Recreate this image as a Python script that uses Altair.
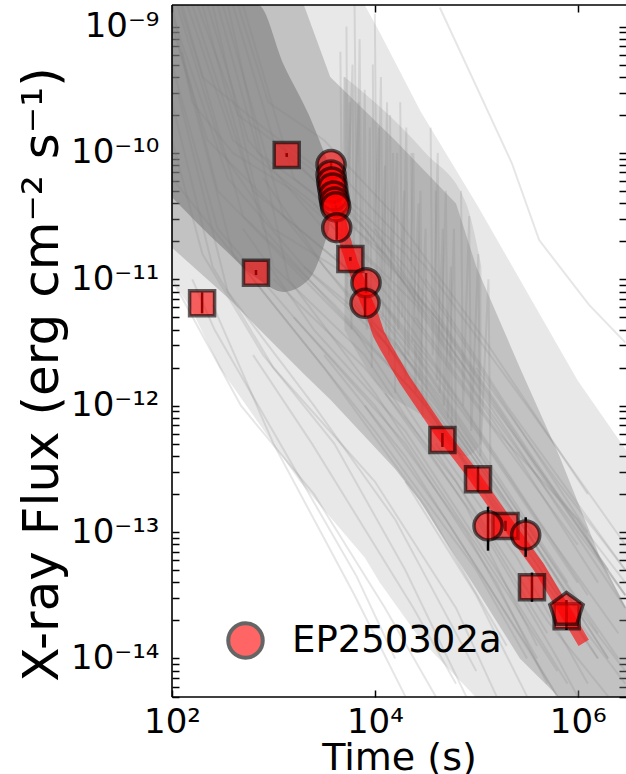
import altair as alt
import pandas as pd

FONT = "DejaVu Sans"

sq_t = [198, 673, 1352, 5741, 4.634e4, 1.04e5, 1.94e5, 3.54e5, 7.78e5]
sq_f = [6.46e-12, 1.127e-11, 9.62e-11, 1.449e-11, 5.36e-13, 2.62e-13, 1.12e-13, 3.66e-14, 2.16e-14]
sq_lo = [5.38e-12, 1.08e-11, 9.29e-11, 1.40e-11, 4.71e-13, 2.09e-13, 1.02e-13, 2.81e-14, 1.90e-14]
sq_hi = [7.88e-12, 1.185e-11, 9.97e-11, 1.50e-11, 6.08e-13, 3.29e-13, 1.23e-13, 4.78e-14, 2.45e-14]

ci_t = [3700, 3700, 3758, 3837, 3926, 4018, 4111, 4207, 8185, 7998, 1.306e5, 3.07e5]
ci_f = [8.07e-11, 6.69e-11, 5.89e-11, 5.27e-11, 4.56e-11, 4.09e-11, 3.74e-11, 2.56e-11,
        9.39e-12, 6.46e-12, 1.12e-13, 9.48e-14]
ci_lo = [7.60e-11, 6.45e-11, 5.70e-11, 5.10e-11, 4.42e-11, 3.96e-11, 3.62e-11, 2.05e-11,
         7.80e-12, 5.06e-12, 7.13e-14, 6.38e-14]
ci_hi = [8.63e-11, 6.95e-11, 6.10e-11, 5.45e-11, 4.72e-11, 4.23e-11, 3.87e-11, 2.86e-11,
         1.122e-11, 7.52e-12, 1.59e-13, 1.31e-13]

pe_t = [7.75e5]
pe_f = [2.42e-14]
pe_lo = [1.68e-14]
pe_hi = [2.90e-14]

model_t = [3926, 5047, 5916, 8128, 9528, 10916, 12796, 19720, 42660, 90200, 1.906e5, 4.13e5, 1.146e6]
model_f = [4.65e-11, 2.05e-11, 1.37e-11, 6.86e-12, 5.12e-12, 3.69e-12, 2.91e-12, 1.60e-12,
           6.42e-13, 2.94e-13, 1.25e-13, 5.30e-14, 1.33e-14]

# ---------------- comparison sample (log10 t, log10 flux) ----------------
early_curves = [
    [(2.00, -8.90), (2.55, -10.20), (3.30, -10.90), (4.20, -11.50), (5.30, -12.80), (6.00, -13.70)],
    [(2.05, -8.83), (2.50, -10.00), (3.00, -10.60), (4.00, -11.10), (5.00, -12.30), (5.90, -13.40)],
    [(2.10, -8.83), (2.70, -10.50), (3.60, -11.20), (4.50, -12.00), (5.50, -13.20), (6.20, -14.00)],
    [(2.00, -9.30), (2.45, -10.60), (3.20, -11.30), (4.30, -12.30), (5.20, -13.40), (5.70, -14.20)],
    [(2.15, -8.83), (2.60, -9.90), (3.40, -10.40), (4.40, -11.20), (5.40, -12.40), (6.20, -13.40)],
    [(2.20, -8.83), (2.80, -10.30), (3.70, -10.90), (4.70, -12.00), (5.80, -13.30), (6.40, -14.00)],
    [(2.00, -9.60), (2.40, -10.90), (3.00, -11.70), (4.00, -12.60), (4.80, -13.60), (5.20, -14.30)],
    [(2.25, -8.83), (2.65, -9.70), (3.50, -10.20), (4.30, -10.90), (5.30, -12.10), (6.30, -13.30)],
    [(2.30, -8.83), (2.90, -10.60), (3.80, -11.40), (4.80, -12.60), (5.70, -13.80)],
    [(2.00, -9.00), (2.35, -9.90), (3.10, -10.50), (4.10, -11.50), (5.10, -12.70), (5.90, -13.60)],
    [(2.35, -8.83), (2.75, -9.90), (3.60, -10.70), (4.60, -11.70), (5.60, -12.90), (6.40, -13.80)],
    [(2.40, -8.83), (3.00, -10.90), (3.90, -11.60), (4.90, -12.80), (5.60, -13.90)],
    [(2.00, -9.90), (2.30, -10.80), (2.90, -11.60), (3.60, -12.30), (4.30, -13.30), (4.90, -14.30)],
    [(2.10, -9.20), (2.45, -10.30), (3.30, -11.00), (4.40, -11.90), (5.40, -13.00), (6.20, -14.00)],
    [(2.45, -8.83), (2.85, -10.00), (3.70, -10.50), (4.60, -11.30), (5.60, -12.50), (6.47, -13.50)],
    [(2.50, -8.83), (3.10, -10.50), (4.00, -11.10), (5.00, -12.20), (6.00, -13.40)],
    [(2.00, -8.95), (2.60, -10.80), (3.50, -11.70), (4.50, -12.80), (5.30, -13.90)],
    [(2.55, -8.83), (3.15, -11.00), (4.00, -11.90), (5.00, -13.10), (5.80, -14.10)],
    [(2.05, -9.50), (2.55, -11.10), (3.40, -12.00), (4.20, -12.90), (5.00, -14.10)],
    [(2.60, -8.83), (3.00, -9.90), (3.90, -10.60), (4.80, -11.60), (5.80, -12.80), (6.47, -13.60)],
    [(2.00, -8.83), (2.20, -9.60), (2.60, -10.00), (3.20, -10.30), (4.00, -10.90), (5.00, -12.00), (6.00, -13.10)],
    [(2.08, -8.83), (2.30, -9.40), (2.90, -9.80), (3.40, -10.10), (4.30, -10.80), (5.20, -11.90), (6.10, -13.00)],
    [(2.65, -8.83), (2.95, -9.60), (3.50, -9.90), (4.20, -10.50), (5.10, -11.50), (6.10, -12.70)],
    [(2.70, -8.83), (3.20, -10.20), (4.10, -10.80), (5.00, -11.90), (6.00, -13.00), (6.47, -13.50)],
    [(2.00, -10.20), (2.50, -10.70), (3.20, -11.40), (4.00, -12.20), (5.00, -13.30), (5.50, -14.00)],
]

late_curves = [
    [(2.90, -10.20), (3.50, -10.90), (4.50, -11.80), (5.50, -13.00), (6.30, -14.00)],
    [(3.10, -10.00), (3.80, -10.50), (4.70, -11.40), (5.70, -12.60), (6.47, -13.50)],
    [(3.40, -10.40), (4.20, -11.20), (5.20, -12.40), (6.10, -13.50)],
    [(3.60, -10.80), (4.40, -11.60), (5.30, -12.70), (6.20, -13.80)],
    [(2.70, -10.60), (3.40, -11.40), (4.30, -12.20), (5.20, -13.30), (5.90, -14.20)],
    [(3.20, -11.30), (4.00, -12.00), (4.90, -13.00), (5.60, -14.00)],
    [(3.70, -10.20), (4.50, -10.90), (5.50, -12.00), (6.47, -13.10)],
    [(3.50, -11.60), (4.30, -12.40), (5.10, -13.40), (5.80, -14.30)],
    [(3.00, -11.00), (3.90, -11.70), (4.80, -12.60), (5.70, -13.70), (6.30, -14.30)],
    [(3.80, -11.20), (4.60, -12.00), (5.50, -13.00), (6.30, -14.00)],
    [(4.00, -10.60), (4.80, -11.60), (5.80, -12.70), (6.47, -13.40)],
    [(3.90, -12.00), (4.70, -12.90), (5.50, -13.90), (5.80, -14.30)],
    [(4.20, -11.50), (5.00, -12.40), (6.00, -13.60), (6.47, -14.10)],
    [(4.10, -11.90), (5.00, -12.90), (5.80, -14.00), (6.00, -14.30)],
    [(4.50, -11.00), (5.30, -12.00), (6.20, -13.00), (6.47, -13.30)],
    [(4.60, -12.30), (5.40, -13.20), (6.10, -14.20)],
    [(5.00, -11.70), (5.80, -12.60), (6.47, -13.30)],
    [(4.30, -12.60), (5.00, -13.50), (5.50, -14.30)],
    [(4.40, -11.30), (5.20, -12.20), (6.00, -12.90), (6.47, -13.60)],
    [(3.30, -10.90), (4.10, -11.50), (5.10, -12.60), (6.00, -13.70), (6.47, -14.20)],
]

faint_curves = [
    [(2.40, -11.20), (3.00, -12.30), (3.80, -13.50), (4.30, -14.30)],
    [(2.00, -11.00), (2.68, -12.00), (3.40, -12.70), (4.10, -13.60), (4.60, -14.30)],
    [(2.80, -11.60), (3.38, -12.30), (4.38, -13.60), (4.80, -14.20)],
    [(2.20, -11.00), (2.42, -11.40), (3.82, -13.35), (4.20, -14.00)],
    [(4.64, -8.85), (5.35, -10.08), (5.62, -10.69), (6.11, -11.20), (6.47, -11.50)],
]

flare_curves = [
    [(3.66, -9.2), (3.68, -10.9), (3.70, -9.4), (3.72, -11.2), (3.75, -9.6), (3.77, -11.4)],
    [(3.80, -8.83), (3.82, -10.6), (3.85, -9.1), (3.87, -11.0), (3.90, -9.5), (3.92, -11.4), (3.95, -9.8), (3.97, -11.7)],
    [(4.00, -8.90), (4.02, -11.0), (4.06, -9.4), (4.08, -11.3), (4.12, -9.6), (4.14, -11.6), (4.18, -10.0), (4.20, -11.9)],
    [(4.25, -9.6), (4.27, -11.3), (4.31, -9.8), (4.33, -11.6), (4.38, -10.0), (4.40, -11.9), (4.45, -10.3), (4.47, -12.1)],
    [(4.55, -9.8), (4.57, -11.6), (4.62, -10.0), (4.64, -11.9), (4.70, -10.3), (4.72, -12.1), (4.78, -10.6), (4.80, -12.3)],
    [(4.85, -10.3), (4.87, -12.0), (4.93, -10.5), (4.95, -12.2), (5.02, -10.8), (5.04, -12.4), (5.12, -11.0), (5.14, -12.5)],
    [(3.72, -9.0), (3.73, -10.4), (3.78, -9.3), (3.79, -10.8), (3.84, -9.6), (3.86, -11.1)],
    [(3.98, -9.3), (3.99, -10.7), (4.04, -9.8), (4.05, -11.2), (4.10, -10.1), (4.11, -11.5)],
    [(4.15, -9.7), (4.16, -11.0), (4.22, -10.0), (4.23, -11.4), (4.29, -10.3), (4.30, -11.8)],
    [(4.36, -10.0), (4.37, -11.5), (4.43, -10.4), (4.44, -11.8), (4.50, -10.6), (4.51, -12.0)],
    [(4.60, -10.3), (4.61, -11.8), (4.67, -10.6), (4.68, -12.0), (4.75, -10.9), (4.76, -12.2)],
]

# density envelopes of the comparison sample (log10 t, upper log10 f, lower log10 f)
env_outer_t = [2.0, 2.2, 2.47, 3.26, 3.9, 4.05, 4.45, 5.0, 5.5, 6.0, 6.476]
env_outer_top = [-8.83, -8.83, -8.83, -8.83, -8.83, -9.05, -9.67, -10.4, -11.1, -11.8, -12.35]
env_outer_bot = [-11.0, -11.25, -11.7, -12.6, -13.2, -13.4, -13.85, -14.31, -14.31, -14.31, -14.31]

env_mid_t = [2.0, 2.57, 3.3, 3.56, 4.2, 4.44, 4.8, 5.0, 5.43, 5.82, 6.22, 6.476]
env_mid_top = [-8.83, -8.83, -8.83, -9.4, -9.9, -10.1, -10.4, -10.9, -11.7, -12.4, -13.2, -13.6]
env_mid_bot = [-10.75, -11.16, -11.75, -11.95, -12.5, -12.75, -13.2, -13.45, -14.0, -14.31, -14.31, -14.31]

env_core_t = [2.0, 2.5, 2.85, 3.1, 3.35, 3.55]
env_core_top = [-8.83, -8.83, -8.83, -9.3, -9.7, -10.1]
env_core_bot = [-10.35, -10.75, -11.0, -11.1, -11.0, -10.6]

env_flare_t = [3.7, 4.0, 4.5, 4.9, 5.05]
env_flare_top = [-9.4, -9.6, -10.0, -10.4, -10.9]
env_flare_bot = [-11.4, -11.8, -12.1, -12.4, -12.3]

# ---------------- tables ----------------
rows = []
cid = 0
for group in (early_curves, late_curves, faint_curves, flare_curves):
    for curve in group:
        for k, (lt, lf) in enumerate(curve):
            rows.append({"cid": cid, "k": k, "t": 10 ** lt, "f": 10 ** lf})
        cid += 1
bg_df = pd.DataFrame(rows)


def env_df(ts, tops, bots):
    return pd.DataFrame({"t": [10 ** v for v in ts],
                         "top": [10 ** v for v in tops],
                         "bot": [10 ** v for v in bots]})


sq_df = pd.DataFrame({"t": sq_t, "f": sq_f})
ci_df = pd.DataFrame({"t": ci_t, "f": ci_f, "lab": ["EP250302a"] * len(ci_t)})
pe_df = pd.DataFrame({"t": pe_t, "f": pe_f})
err_df = pd.DataFrame({"t": sq_t + ci_t + pe_t, "lo": sq_lo + ci_lo + pe_lo, "hi": sq_hi + ci_hi + pe_hi})
model_df = pd.DataFrame({"t": model_t, "f": model_f})

# ---------------- scales / axes ----------------
XDOM = [100, 10 ** 6.4761]
YDOM = [10 ** -14.3046, 10 ** -8.8299]
xs = alt.Scale(type="log", domain=XDOM, nice=False)
ys = alt.Scale(type="log", domain=YDOM, nice=False)

ytick_vals = [m * 10.0 ** e for e in range(-15, -8) for m in range(1, 10)
              if YDOM[0] <= m * 10.0 ** e <= YDOM[1]]
xtick_vals = [1e2, 1e4, 1e6]

SUP = str.maketrans("0123456789-", "⁰¹²³⁴⁵⁶⁷⁸⁹⁻")


def pow_expr(exps):
    e = "log(datum.value)/LN10"
    expr = "''"
    for k in exps:
        expr = f"abs({e}-({k}))<0.01 ? '10{str(k).translate(SUP)}' : ({expr})"
    return expr


common_tick = dict(domain=False, grid=False, tickSize=7, tickWidth=1.5, tickColor="black", offset=-7)

ax_bottom = alt.Axis(orient="bottom", values=xtick_vals, labelExpr=pow_expr([2, 4, 6]),
                     labelFont=FONT, labelFontSize=34, labelColor="black",
                     labelBaseline="alphabetic", labelPadding=35, labelFlush=False,
                     labelOverlap=False, labelBound=False,
                     title="Time (s)", titleFont=FONT, titleFontSize=38, titleFontWeight="normal",
                     titleColor="black", titleBaseline="alphabetic", titleY=79, **common_tick)
ax_left = alt.Axis(orient="left", values=ytick_vals, labelExpr=pow_expr([-9, -10, -11, -12, -13, -14]),
                   labelFont=FONT, labelFontSize=34, labelColor="black",
                   labelBaseline="middle", labelPadding=13, labelFlush=False,
                   labelOverlap=False, labelBound=False,
                   title="X-ray Flux (erg cm⁻² s⁻¹)", titleFont=FONT, titleFontSize=50,
                   titleFontWeight="normal", titleColor="black", titleAngle=270,
                   titleBaseline="alphabetic", titleAlign="center", titleX=-122, titleY=369,
                   **common_tick)
ax_top = alt.Axis(orient="top", values=xtick_vals, labels=False, title="", **common_tick)
ax_right = alt.Axis(orient="right", values=ytick_vals, labels=False, title="", **common_tick)

GRAY = "#777777"

outer = alt.Chart(env_df(env_outer_t, env_outer_top, env_outer_bot)).mark_area(
    color=GRAY, opacity=0.17, clip=True).encode(
    x=alt.X("t:Q", scale=xs, axis=ax_bottom),
    y=alt.Y("top:Q", scale=ys, axis=ax_left),
    y2="bot:Q")
mid = alt.Chart(env_df(env_mid_t, env_mid_top, env_mid_bot)).mark_area(
    color=GRAY, opacity=0.33, clip=True).encode(
    x=alt.X("t:Q", scale=xs, axis=None),
    y=alt.Y("top:Q", scale=ys, axis=None),
    y2="bot:Q")
core = alt.Chart(env_df(env_core_t, env_core_top, env_core_bot)).mark_area(
    color=GRAY, opacity=0.55, clip=True, interpolate="monotone").encode(
    x=alt.X("t:Q", scale=xs, axis=None),
    y=alt.Y("top:Q", scale=ys, axis=None),
    y2="bot:Q")
flare_zone = alt.Chart(env_df(env_flare_t, env_flare_top, env_flare_bot)).mark_area(
    color=GRAY, opacity=0.18, clip=True, interpolate="monotone").encode(
    x=alt.X("t:Q", scale=xs, axis=None),
    y=alt.Y("top:Q", scale=ys, axis=None),
    y2="bot:Q")

bg = alt.Chart(bg_df).mark_line(color="#808080", opacity=0.2, strokeWidth=2, clip=True).encode(
    x=alt.X("t:Q", scale=xs, axis=ax_top),
    y=alt.Y("f:Q", scale=ys, axis=ax_right),
    detail="cid:N",
    order="k:Q")

model = alt.Chart(model_df).mark_line(color="red", opacity=0.6, strokeWidth=12, strokeCap="butt",
                                      clip=True).encode(
    x=alt.X("t:Q", scale=xs, axis=None),
    y=alt.Y("f:Q", scale=ys, axis=None))

errs = alt.Chart(err_df).mark_rule(color="black", strokeWidth=2.5).encode(
    x=alt.X("t:Q", scale=xs, axis=None),
    y=alt.Y("lo:Q", scale=ys, axis=None),
    y2="hi:Q")

marker_style = dict(filled=True, opacity=1, fillOpacity=0.6, stroke="black",
                    strokeOpacity=0.6, strokeWidth=3.5)

squares = alt.Chart(sq_df).mark_point(shape="square", size=625, color="red", **marker_style).encode(
    x=alt.X("t:Q", scale=xs, axis=None),
    y=alt.Y("f:Q", scale=ys, axis=None))

circles = alt.Chart(ci_df).mark_point(shape="circle", size=790, **marker_style).encode(
    x=alt.X("t:Q", scale=xs, axis=None),
    y=alt.Y("f:Q", scale=ys, axis=None),
    color=alt.Color("lab:N", scale=alt.Scale(domain=["EP250302a"], range=["red"]),
                    legend=alt.Legend(orient="none", legendX=54, legendY=616, title=None,
                                      symbolType="circle", symbolSize=1190, symbolStrokeWidth=4,
                                      symbolStrokeColor="black", symbolFillColor="red",
                                      symbolOpacity=0.6, labelFont=FONT, labelFontSize=37,
                                      labelColor="black", labelOffset=27, labelLimit=400,
                                      padding=0)))

PENTAGON = "M0,-1L0.951,-0.309L0.588,0.809L-0.588,0.809L-0.951,-0.309Z"
pentagon = alt.Chart(pe_df).mark_point(shape=PENTAGON, size=1225, color="red", **marker_style).encode(
    x=alt.X("t:Q", scale=xs, axis=None),
    y=alt.Y("f:Q", scale=ys, axis=None))

W, H = 454, 692
one = pd.DataFrame({"s": [0]})
spine_left = alt.Chart(one).mark_rule(color="black", strokeWidth=1.6).encode(
    x=alt.value(0), y=alt.value(0), y2=alt.value(H))
spine_top = alt.Chart(one).mark_rule(color="black", strokeWidth=1.6).encode(
    x=alt.value(0), x2=alt.value(W + 2), y=alt.value(0))
spine_bottom = alt.Chart(one).mark_rule(color="black", strokeWidth=1.6).encode(
    x=alt.value(0), x2=alt.value(W + 2), y=alt.value(H))

chart = alt.layer(outer, mid, core, flare_zone, bg, model, errs, squares, circles, pentagon,
                  spine_left, spine_top, spine_bottom).resolve_axis(
    x="independent", y="independent").properties(
    width=W, height=H,
    padding={"left": 172, "top": 5, "right": 0, "bottom": 77},
    autosize=alt.AutoSizeParams(type="none"),
    background="white").configure_view(strokeWidth=0)

chart.save("out.html", embed_options={"renderer": "svg", "actions": False})
